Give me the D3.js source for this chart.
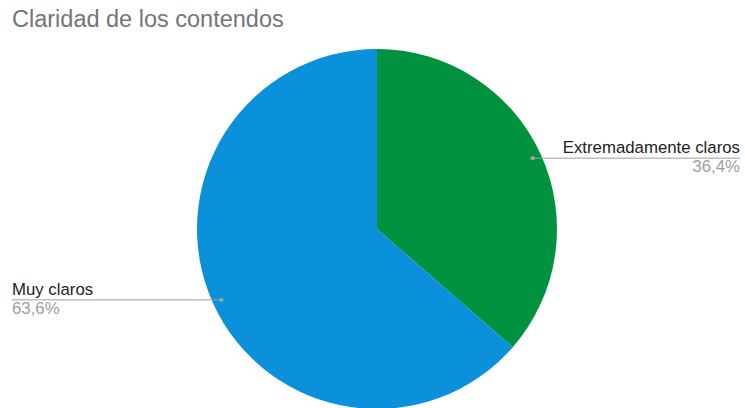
<!DOCTYPE html>
<meta charset="utf-8">
<head>
	<title>Claridad de los contendos</title>
	<script src="https://cdn.jsdelivr.net/npm/d3@7"></script>
	<style>
		body { margin: 0; background: #fff; }
		.title { font-family: "Liberation Sans", Arial, sans-serif; font-size: 23.5px; fill: #757575; }
		.lbl { font-family: "Liberation Sans", Arial, sans-serif; font-size: 16.8px; fill: #222; }
		.pct { font-family: "Liberation Sans", Arial, sans-serif; font-size: 16.8px; fill: #9e9e9e; }
	</style>
</head>
<body>
	<div id="chart"></div>
	<script>
		// data
		var categories = ["Extremadamente claros", "Muy claros"];
		var values = [36.4, 63.6];
		var pctLabels = ["36,4%", "63,6%"];
		var colors = ["#00923f", "#0b90dc"];

		var width = 745, height = 408;
		var cx = 377, cy = 229, radius = 180;

		var svg = d3.select("#chart").append("svg")
			.attr("width", width)
			.attr("height", height);

		svg.append("text")
			.attr("class", "title")
			.attr("x", 12)
			.attr("y", 27)
			.text("Claridad de los contendos");

		var pie = d3.pie().sort(null).value(function (d) { return d; });
		var arc = d3.arc().innerRadius(0).outerRadius(radius);
		var arcs = pie(values);

		var g = svg.append("g").attr("transform", "translate(" + cx + "," + cy + ")");
		g.selectAll("path")
			.data(arcs)
			.enter()
			.append("path")
			.attr("d", arc)
			.attr("fill", function (d, i) { return colors[i]; });

		// leader lines and labels
		var inner = d3.arc().innerRadius(radius * 0.95).outerRadius(radius * 0.95);
		arcs.forEach(function (d, i) {
			var p = inner.centroid(d);
			var px = cx + p[0], py = cy + p[1];
			var right = p[0] > 0;
			var endX = right ? 740 : 12;
			svg.append("line")
				.attr("x1", px).attr("y1", py)
				.attr("x2", endX).attr("y2", py)
				.style("stroke", "#9e9e9e")
				.style("stroke-width", 1);
			svg.append("circle")
				.attr("cx", px).attr("cy", py).attr("r", 2.2)
				.style("fill", "#9e9e9e");
			svg.append("text")
				.attr("class", "lbl")
				.attr("x", endX).attr("y", py - 5)
				.attr("text-anchor", right ? "end" : "start")
				.text(categories[i]);
			svg.append("text")
				.attr("class", "pct")
				.attr("x", endX).attr("y", py + 14)
				.attr("text-anchor", right ? "end" : "start")
				.text(pctLabels[i]);
		});
	</script>
</body>
</html>
